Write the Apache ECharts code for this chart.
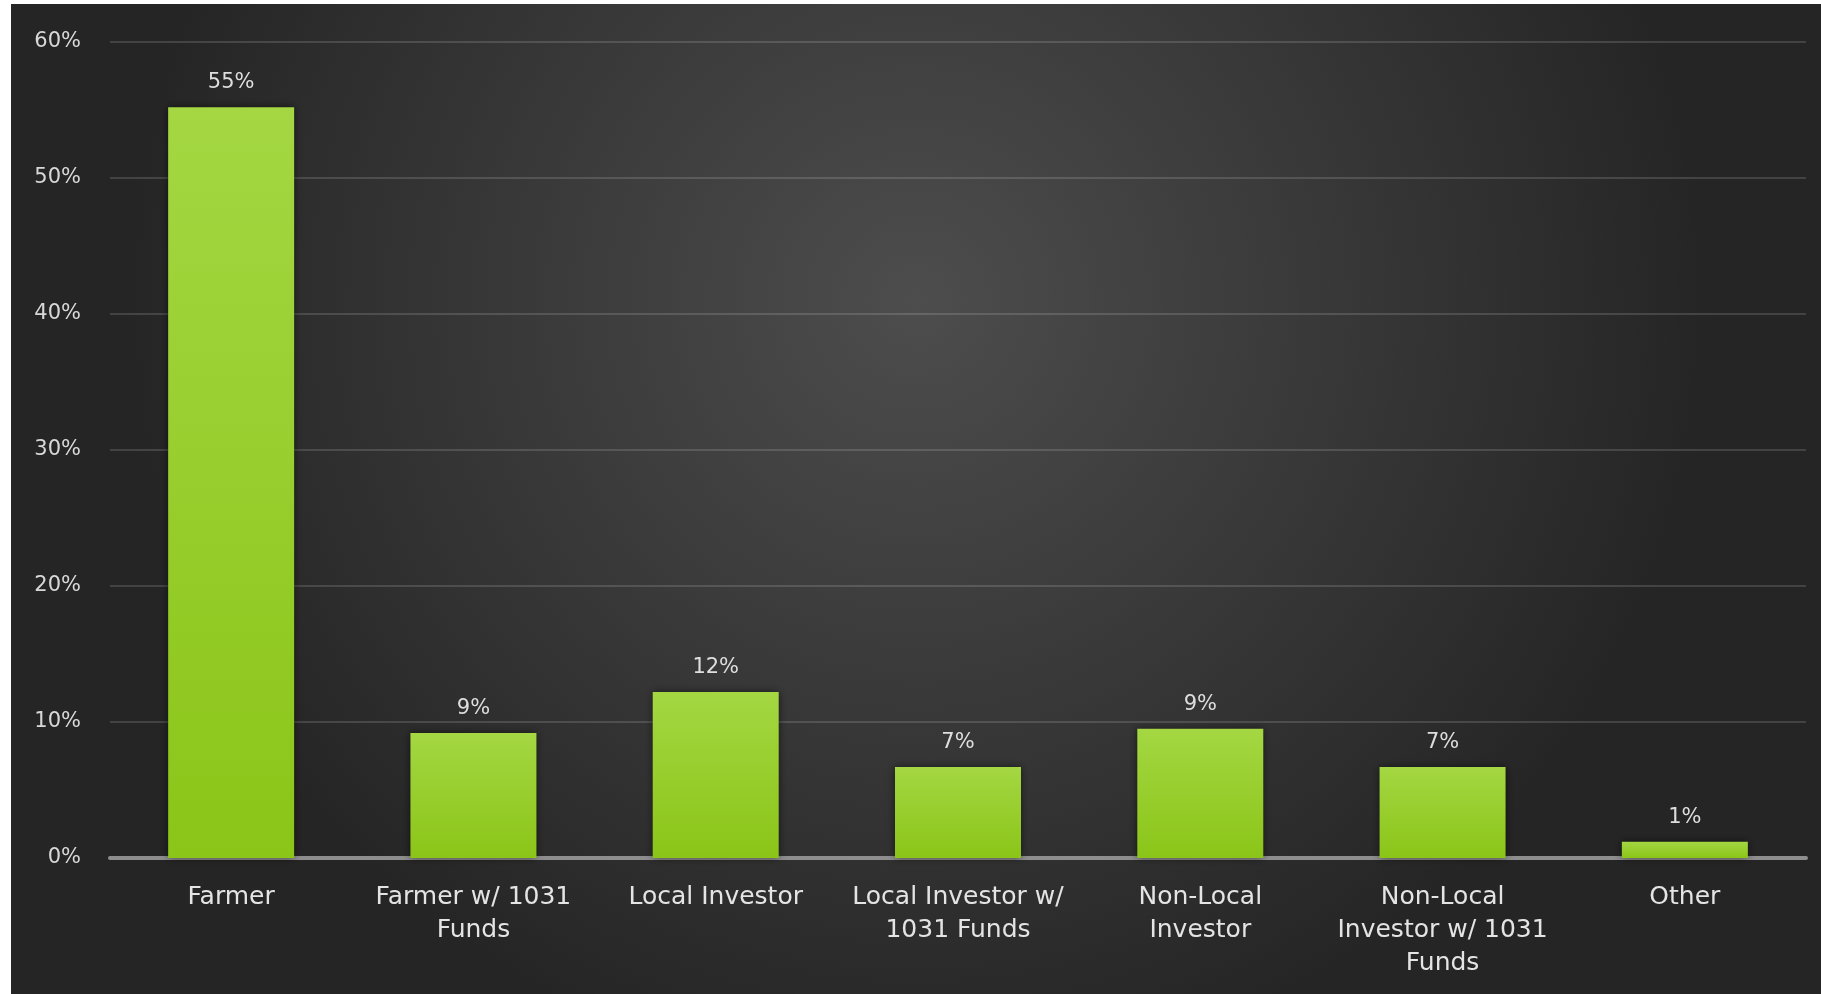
<!DOCTYPE html>
<html>
<head>
<meta charset="utf-8">
<script src="https://cdn.jsdelivr.net/npm/echarts@6/dist/echarts.min.js"></script>
<style>
html,body{margin:0;padding:0;background:#ffffff;width:1821px;height:994px;overflow:hidden;}
#chart{position:absolute;left:11px;top:4px;width:1810px;height:990px;}
</style>
</head>
<body>
<div id="chart"></div>
<script>
const categories = ["Farmer", "Farmer w/ 1031\nFunds", "Local Investor", "Local Investor w/\n1031 Funds", "Non-Local\nInvestor", "Non-Local\nInvestor w/ 1031\nFunds", "Other"];
const values = [55.2, 9.2, 12.2, 6.7, 9.5, 6.7, 1.2];
const valueLabels = ["55%", "9%", "12%", "7%", "9%", "7%", "1%"];
const yTicks = [0, 10, 20, 30, 40, 50, 60];

const chart = echarts.init(document.getElementById('chart'));
chart.setOption({
  backgroundColor: {
    type: 'radial', x: 0.5, y: 0.3, r: 0.8,
    colorStops: [{offset: 0, color: '#4d4d4d'}, {offset: 1, color: '#252525'}]
  },
  textStyle: {fontFamily: 'DejaVu Sans'},
  grid: {left: 99, right: 15, top: 38, bottom: 136, containLabel: false},
  xAxis: {
    type: 'category',
    data: categories,
    axisTick: {show: false},
    axisLine: {lineStyle: {color: '#8e8e8e', width: 4}},
    axisLabel: {color: '#e4e4e4', fontSize: 25, lineHeight: 33, margin: 23, interval: 0, fontFamily: 'DejaVu Sans'}
  },
  yAxis: {
    type: 'value',
    min: yTicks[0], max: yTicks[yTicks.length - 1], interval: 10,
    axisLine: {show: false},
    axisTick: {show: false},
    splitLine: {lineStyle: {color: 'rgba(255,255,255,0.14)', width: 2}},
    axisLabel: {color: '#d8d8d8', fontSize: 21, margin: 29, formatter: v => v + '%', fontFamily: 'DejaVu Sans'}
  },
  series: [{
    type: 'bar',
    data: values,
    barWidth: '52%',
    itemStyle: {
      color: {type: 'linear', x: 0, y: 0, x2: 0, y2: 1,
        colorStops: [{offset: 0, color: '#a4d742'}, {offset: 1, color: '#8bc518'}]},
      shadowBlur: 8, shadowColor: 'rgba(0,0,0,0.55)'
    },
    label: {
      show: true, position: 'top', distance: 14,
      color: '#dedede', fontSize: 21, fontFamily: 'DejaVu Sans',
      formatter: p => valueLabels[p.dataIndex]
    }
  }]
});
</script>
</body>
</html>
